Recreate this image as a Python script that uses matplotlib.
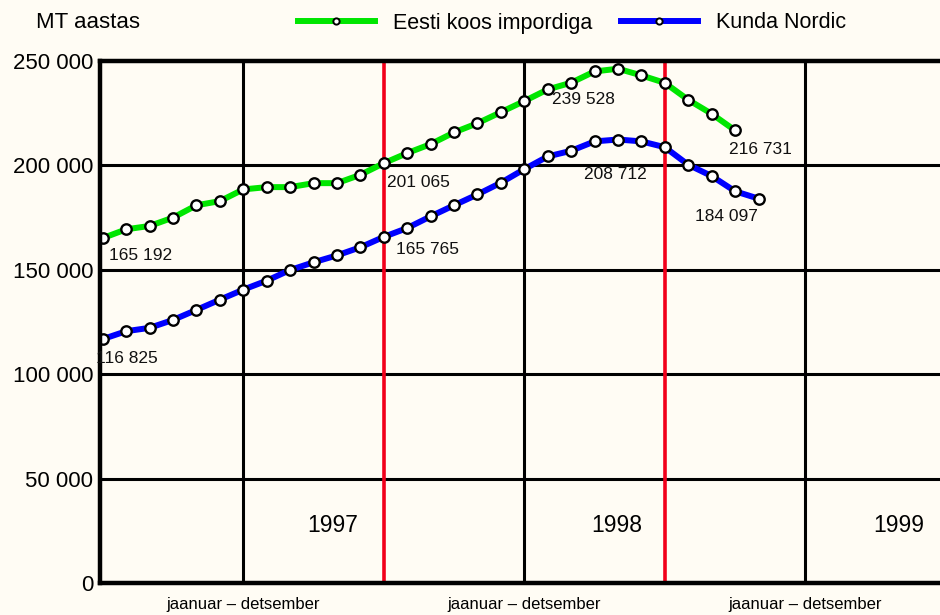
import matplotlib
matplotlib.use("Agg")
import matplotlib.pyplot as plt
from matplotlib.lines import Line2D
from matplotlib.ticker import FuncFormatter

plt.rcParams['font.family'] = ['Liberation Sans', 'DejaVu Sans']

# kuud alates jaanuar 1997 (0 = jaanuar 1997)
eesti = [165192, 169400, 171000, 175000, 180900, 182900, 188500, 189600, 189600,
         191500, 191500, 195500, 201065, 205900, 210200, 215800, 220200, 225500,
         230800, 236400, 239600, 245000, 246300, 243100, 239528, 231400, 224700,
         216731]
kunda = [116825, 120600, 122200, 126000, 130800, 135700, 140500, 144800, 149900,
         153600, 156900, 160800, 165765, 170000, 175600, 180900, 186100, 191700,
         198200, 204300, 207000, 211500, 212400, 211500, 208712, 200300, 194900,
         187600, 184097]

# (indeks, nihe x px, nihe y px) andmesiltide jaoks
eesti_labels = [(0, 38, -17), (12, 35, -19), (24, -81, -17), (27, 25, -19)]
kunda_labels = [(0, 24, -19), (12, 44, -13), (24, -49, -27), (28, -32, -18)]

years = ['1997', '1998', '1999']
year_pos = [9.83, 21.96, 34.0]
period_ticks = [6, 18, 30]
period_label = 'jaanuar \u2013 detsember'
red_lines = [12, 24]
h_lines = [50000, 100000, 150000, 200000]

bg = '#fffcf4'
green = '#00e600'
blue = '#0000ff'
red = '#f2001a'

fig = plt.figure(figsize=(9.4, 6.15), dpi=100, facecolor=bg)
ax = fig.add_axes([100 / 940, 1 - 583 / 615, 1 - 100 / 940, (583 - 61) / 615])
ax.set_facecolor(bg)

for y in h_lines:
    ax.axhline(y, color='black', lw=2.2, zorder=1)
for x in period_ticks:
    ax.axvline(x, color='black', lw=2.2, zorder=1)
for x in red_lines:
    ax.axvline(x, color=red, lw=2.6, zorder=1)

mk = dict(marker='o', markersize=7.5, markerfacecolor='white',
          markeredgecolor='black', markeredgewidth=1.7)
ax.plot(range(len(eesti)), eesti, color=green, lw=4.3, zorder=3, **mk)
ax.plot(range(len(kunda)), kunda, color=blue, lw=4.3, zorder=3, **mk)

def fmt(v):
    return f'{v:,}'.replace(',', ' ')

for series, labels in [(eesti, eesti_labels), (kunda, kunda_labels)]:
    for i, dx, dy in labels:
        ax.annotate(fmt(series[i]), xy=(i, series[i]), xytext=(dx, dy),
                    textcoords='offset pixels', ha='center', va='center',
                    fontsize=12.5, color='#111111', zorder=5)

for yr, xp in zip(years, year_pos):
    ax.text(xp, 27700, yr, ha='center', va='center', fontsize=16.5, zorder=5)

ax.set_xlim(-0.12, 35.75)
ax.set_ylim(0, 250000)
ax.set_yticks(range(0, 250001, 50000))
ax.yaxis.set_major_formatter(FuncFormatter(lambda v, p: fmt(int(v))))
ax.set_xticks(period_ticks)
ax.set_xticklabels([period_label] * len(period_ticks))
ax.tick_params(axis='y', length=0, pad=5, labelsize=16)
ax.tick_params(axis='x', length=0, pad=10, labelsize=12)

ax.spines['right'].set_visible(False)
for s in ['left', 'bottom', 'top']:
    ax.spines[s].set_linewidth(3.2)
    ax.spines[s].set_zorder(4)

fig.text(36 / 940, 1 - 23 / 615, 'MT aastas', ha='left', va='center', fontsize=16)

leg_mk = dict(marker='o', markersize=4.5, markerfacecolor='white',
              markeredgecolor='black', markeredgewidth=1.4)
handles = [Line2D([], [], color=green, lw=4.3, **leg_mk),
           Line2D([], [], color=blue, lw=4.3, **leg_mk)]
fig.legend(handles, ['Eesti koos impordiga', 'Kunda Nordic'], ncol=2,
           loc='center', bbox_to_anchor=(572 / 940, 1 - 23 / 615),
           frameon=False, fontsize=15.5, handlelength=3.6, handletextpad=0.85,
           columnspacing=1.3, numpoints=1)

fig.savefig('out.png', dpi=100, facecolor=bg)
